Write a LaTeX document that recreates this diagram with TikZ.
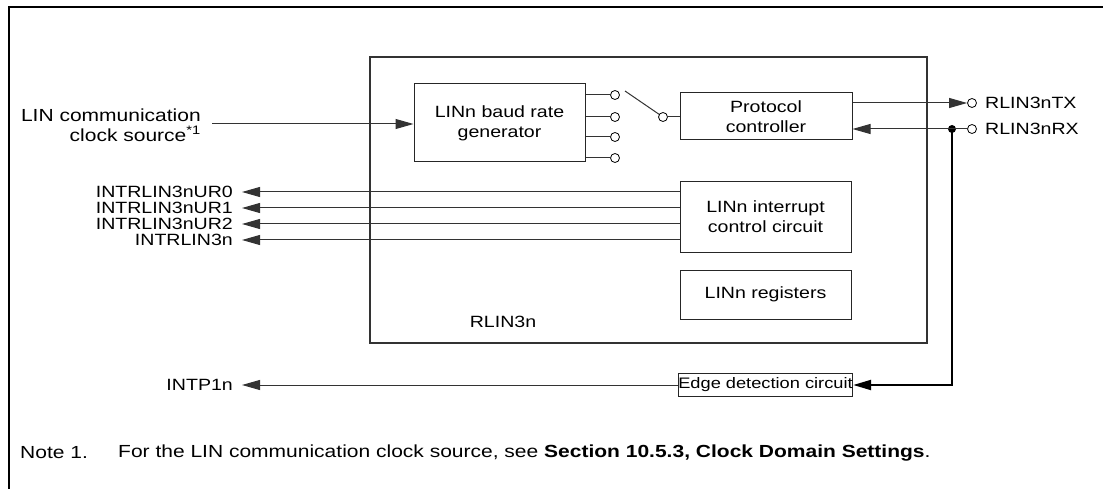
\documentclass[tikz,border=0pt]{standalone}
\usepackage{fontspec}
\setmainfont[FakeStretch=1.2]{Liberation Sans}
\usetikzlibrary{arrows.meta}
\begin{document}
\begin{tikzpicture}[x=1pt,y=-1pt,
  blk/.style={draw=black!85, line width=1pt, inner sep=0pt, align=center, font=\fontsize{16.3}{20}\selectfont},
  lbl/.style={font=\fontsize{16.3}{20}\selectfont, inner sep=0pt},
  notef/.style={font=\fontsize{17.5}{22}\selectfont, inner sep=0pt, anchor=west},
  wire/.style={draw=black!80, line width=1pt},
  thickwire/.style={draw=black, line width=2.2pt},
  tri/.style={-{Triangle[length=18pt,width=10pt]}},
  term/.style={circle, draw=black, fill=white, line width=0.8pt, minimum size=9pt, inner sep=0pt},
  jdot/.style={circle, fill=black, minimum size=8pt, inner sep=0pt},
]
\useasboundingbox (0,0) rectangle (1103,489);
\fill[white] (0,0) rectangle (1103,489);
% outer frame
\draw[line width=2pt] (1103,7) -- (9,7) -- (9,489);

% main block
\node[draw=black!80, line width=2pt, minimum width=557pt, minimum height=286pt, inner sep=0pt] (rlin) at (648.5,200) {};
\node[lbl] (rlinl) at (503,322) {RLIN3n};

% inner blocks
\node[blk, minimum width=171pt, minimum height=78pt] (baud) at (499.5,123) {LINn baud rate\\generator};
\node[blk, minimum width=172pt, minimum height=47pt] (proto) at (766,116.5) {Protocol\\controller};
\node[blk, minimum width=171pt, minimum height=70pt] (intr) at (765.5,217) {LINn interrupt\\control circuit};
\node[blk, minimum width=171pt, minimum height=49pt] (regs) at (765.5,294.5) {LINn registers};
\node[blk, minimum width=171pt, minimum height=23pt, font=\fontsize{15.2}{18}\selectfont] (edge) at (765.5,385) {Edge detection circuit};

% baud rate outputs
\foreach \i/\y in {1/95,2/117,3/137,4/158}{
  \node[term] (o\i) at (615,\y) {};
  \draw[wire] (baud.east |- o\i) -- (o\i);
}
% switch
\node[term] (sw) at (663,117) {};
\coordinate (swtip) at (625,91);
\draw[wire] (swtip) -- (sw);
\draw[wire] (sw) -- (proto.west |- sw);

% clock input
\node[lbl, align=right, anchor=east, font=\fontsize{17.5}{20}\selectfont] (clk) at (201,125) {LIN communication\\clock source\textsuperscript{*1}};
\coordinate (clkin) at (212,124);
\draw[wire,tri] (clkin) -- (baud.west |- clkin);

% TX / RX
\node[term] (tx) at (972,103) {};
\node[lbl, anchor=west] (txl) at (985,103) {RLIN3nTX};
\draw[wire,tri] (proto.east |- tx) -- (tx.west);
\node[term] (rx) at (972,129) {};
\node[lbl, anchor=west] (rxl) at (985,129) {RLIN3nRX};
\node[jdot] (jn) at (952,129) {};
\draw[wire] (rx) -- (jn.center);
\draw[wire,tri] (jn.center) -- (proto.east |- jn);
\draw[thickwire,tri] (jn.center) |- (edge.east);

% interrupt outputs
\foreach \n/\t/\y in {u0/INTRLIN3nUR0/192, u1/INTRLIN3nUR1/208, u2/INTRLIN3nUR2/224, u3/INTRLIN3n/240}{
  \node[lbl, anchor=east] (\n) at (233,\y) {\t};
  \draw[wire,tri] (intr.west |- \n) -- ([xshift=9pt]\n.east);
}

% INTP1n
\node[lbl, anchor=east] (ip) at (233,385) {INTP1n};
\draw[wire,tri] (edge.west) -- ([xshift=9pt]ip.east);

% note
\node[notef] (note) at (20,453) {Note 1.};
\node[notef] (notet) at (118,453) {For the LIN communication clock source, see \textbf{Section 10.5.3, Clock Domain Settings}.};
\end{tikzpicture}
\end{document}
